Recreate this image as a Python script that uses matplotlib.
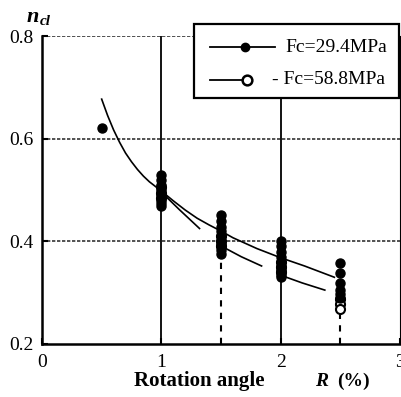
import matplotlib
matplotlib.use('Agg')
import matplotlib.pyplot as plt
from matplotlib.lines import Line2D
from matplotlib.patches import Rectangle
import numpy as np

plt.rcParams['font.family'] = ['Liberation Serif', 'DejaVu Serif']

# ---- data ----
# Fc = 29.4 MPa (filled markers)
r_fc29 = [0.5,
          1.0, 1.0, 1.0, 1.0, 1.0, 1.0, 1.0, 1.0,
          1.5, 1.5, 1.5, 1.5, 1.5, 1.5, 1.5, 1.5, 1.5, 1.5,
          2.0, 2.0, 2.0, 2.0, 2.0, 2.0, 2.0, 2.0, 2.0, 2.0,
          2.5, 2.5, 2.5, 2.5, 2.5, 2.5]
n_fc29 = [0.62,
          0.53, 0.52, 0.51, 0.50, 0.49, 0.48, 0.475, 0.468,
          0.452, 0.44, 0.428, 0.42, 0.41, 0.40, 0.395, 0.39, 0.383, 0.376,
          0.40, 0.39, 0.38, 0.37, 0.36, 0.352, 0.345, 0.34, 0.335, 0.33,
          0.357, 0.338, 0.318, 0.305, 0.297, 0.29]
# Fc = 58.8 MPa (open markers)
r_fc58 = [1.0, 1.0, 1.0, 1.5, 1.5, 1.5, 2.0, 2.0, 2.0, 2.5, 2.5, 2.5]
n_fc58 = [0.505, 0.495, 0.485, 0.41, 0.40, 0.39, 0.36, 0.35, 0.34, 0.288, 0.278, 0.268]

# fitted curves
curve29_r = [0.5, 0.55, 0.6, 0.65, 0.7, 0.75, 0.8, 0.85, 0.9, 0.95, 1.0,
             1.1, 1.2, 1.3, 1.4, 1.5, 1.6, 1.8, 2.0, 2.2, 2.45]
curve29_n = [0.677, 0.645, 0.617, 0.593, 0.572, 0.555, 0.540, 0.527, 0.516, 0.507, 0.498,
             0.479, 0.461, 0.445, 0.432, 0.420, 0.407, 0.386, 0.368, 0.352, 0.330]
curve58_r = [1.0, 1.15, 1.32, np.nan, 1.5, 1.67, 1.84, np.nan, 2.0, 2.18, 2.37]
curve58_n = [0.496, 0.462, 0.425, np.nan, 0.391, 0.370, 0.352, np.nan, 0.334, 0.319, 0.305]

x_ticks = [0, 1, 2, 3]
y_ticks = [0.2, 0.4, 0.6, 0.8]
legend_labels = ['Fc=29.4MPa', '- Fc=58.8MPa']

W, H = 401, 397
fig = plt.figure(figsize=(W / 100, H / 100), dpi=100)

def px(x, y):
    return (x / W, 1 - y / H)

ax = fig.add_axes([42 / W, 1 - 344 / H, (400 - 42) / W, (344 - 36) / H])
ax.set_xlim(0, 3)
ax.set_ylim(0.2, 0.8)

# grid: dotted horizontals, solid verticals at 1 and 2
for yv in [0.4, 0.6, 0.8]:
    ax.axhline(yv, color='#333333', lw=1.2, ls=(0, (2, 1)), zorder=1)
for xv in [1, 2]:
    ax.axvline(xv, color='black', lw=1.3, zorder=1)

# dashed verticals at 1.5 and 2.5 down from cluster
for xv in [1.5, 2.5]:
    lo = min([n for r, n in zip(r_fc29 + r_fc58, n_fc29 + n_fc58) if r == xv])
    ax.vlines(xv, 0.2, lo, colors='black', lw=1.5, linestyles=(0, (3, 3)), zorder=1)

ax.plot(curve29_r, curve29_n, color='black', lw=1.2, zorder=3)
ax.plot(curve58_r, curve58_n, color='black', lw=1.2, zorder=3)

ax.plot(r_fc58, n_fc58, ls='none', marker='o', ms=6.5, mfc='white', mec='black', mew=1.5, zorder=4)
ax.plot(r_fc29, n_fc29, ls='none', marker='o', ms=6.5, mfc='black', mec='black', zorder=5)

ax.spines['top'].set_visible(False)
ax.spines['left'].set_linewidth(1.8)
ax.spines['bottom'].set_linewidth(1.8)
ax.spines['right'].set_linewidth(0.8)

ax.set_xticks(x_ticks)
ax.set_yticks(y_ticks)
ax.set_xticklabels([str(t) for t in x_ticks])
ax.set_yticklabels(['%.1f' % t for t in y_ticks])
ax.tick_params(axis='both', direction='in', length=4, width=1.5, labelsize=14)
ax.tick_params(axis='y', pad=6)
ax.tick_params(axis='x', pad=7)

# axis labels
fig.text(*px(27, 22), 'n', fontsize=16, fontweight='bold', fontstyle='italic', ha='left', va='baseline')
fig.text(*px(40, 25), 'cl', fontsize=11, fontweight='bold', fontstyle='italic', ha='left', va='baseline')
fig.text(*px(199, 386), 'Rotation angle', fontsize=15, fontweight='bold', ha='center', va='baseline')
fig.text(*px(315, 386), 'R', fontsize=14, fontweight='bold', fontstyle='italic', ha='left', va='baseline')
fig.text(*px(337, 386), '(%)', fontsize=14, fontweight='bold', ha='left', va='baseline')

# legend (drawn manually)
x0, y0 = px(194, 98)
x1, y1 = px(399, 24)
fig.add_artist(Rectangle((x0, y0), x1 - x0, y1 - y0, transform=fig.transFigure,
                         facecolor='white', edgecolor='black', lw=1.6, zorder=10))
la, lb = px(210, 47), px(275, 47)
fig.add_artist(Line2D([la[0], lb[0]], [la[1], lb[1]], transform=fig.transFigure, color='black', lw=1.3, zorder=11))
m = px(245, 47)
fig.add_artist(Line2D([m[0]], [m[1]], transform=fig.transFigure, marker='o', ms=6, mfc='black', mec='black', zorder=12))
fig.text(*px(285, 47), legend_labels[0], fontsize=14, ha='left', va='center', zorder=12)
la, lb = px(210, 80), px(245, 80)
fig.add_artist(Line2D([la[0], lb[0]], [la[1], lb[1]], transform=fig.transFigure, color='black', lw=1.3, zorder=11))
m = px(247, 80)
fig.add_artist(Line2D([m[0]], [m[1]], transform=fig.transFigure, marker='o', ms=7, mfc='white', mec='black', mew=1.8, zorder=12))
fig.text(*px(272, 80), legend_labels[1], fontsize=14, ha='left', va='center', zorder=12)

fig.savefig('out.png', dpi=100)
